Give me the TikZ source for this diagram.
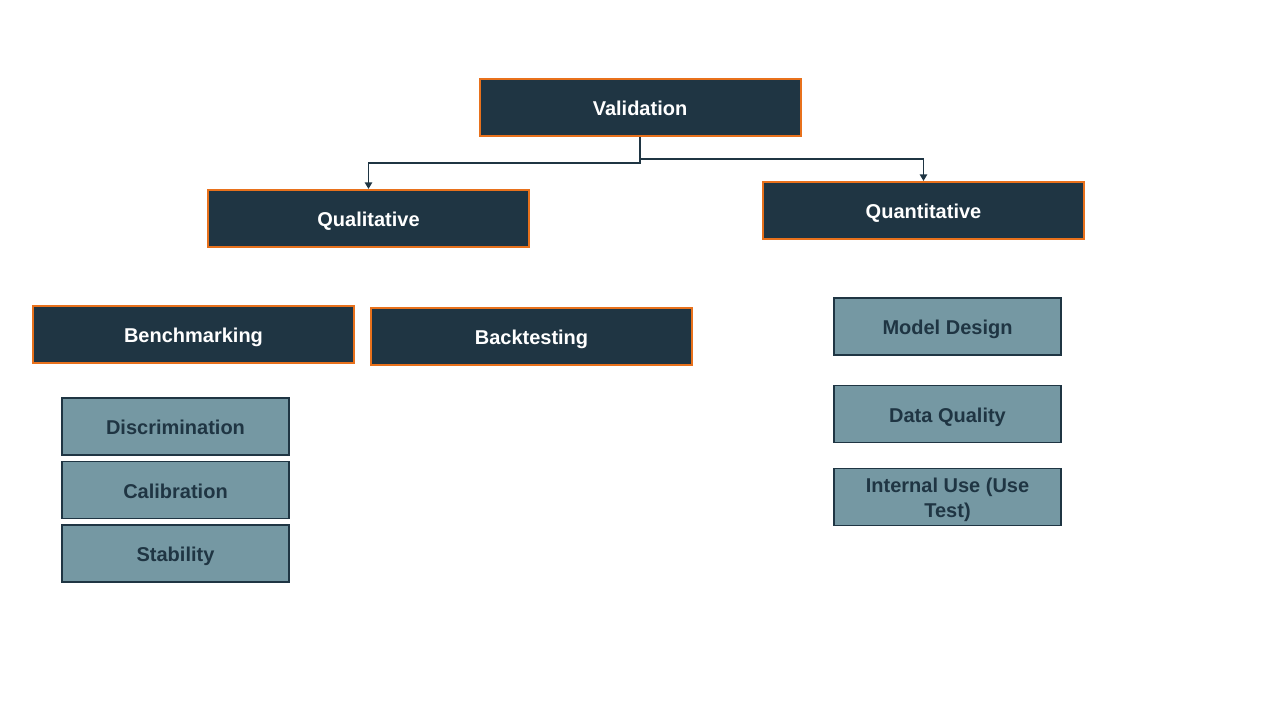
\documentclass[tikz,border=0pt]{standalone}
\usepackage{fontspec}
\setmainfont{Liberation Sans}
\usetikzlibrary{arrows.meta}
\definecolor{darkbox}{HTML}{1F3543}
\definecolor{orangeb}{HTML}{E8711C}
\definecolor{lightbox}{HTML}{7598A3}
\tikzset{
  px/.style={x=0.75pt,y=-0.75pt},
  oneline/.style={text height=12.4pt, text depth=0.2pt},
  topbox/.style={draw=orangeb, line width=1.5pt, fill=darkbox, text=white,
    font=\bfseries\fontsize{15}{17}\selectfont, minimum width=240.75pt, minimum height=42.75pt, inner sep=0pt},
  subbox/.style={draw=darkbox, line width=1.3pt, fill=lightbox, text=darkbox,
    font=\bfseries\fontsize{15}{18.75}\selectfont, minimum width=170.25pt, minimum height=42.75pt,
    inner sep=0pt, align=center},
  conn/.style={draw=darkbox, line width=1.3pt, -{Triangle[length=5pt,width=5.5pt]}}
}
\begin{document}
\begin{tikzpicture}[px]
\useasboundingbox (0,0) rectangle (1280,720);
\node[topbox,oneline] (val) at (640,107.5) {Validation};
\node[topbox,oneline] (qual) at (368.5,218.5) {Qualitative};
\node[topbox,oneline] (quant) at (923.5,210.5) {Quantitative};
\node[topbox,oneline] (bench) at (193.5,334.5) {Benchmarking};
\node[topbox,oneline] (back) at (531.5,336) {Backtesting};
\node[subbox,oneline] (md) at (947.5,326.5) {Model Design};
\node[subbox,oneline] (dq) at (947.5,414) {Data Quality};
\node[subbox,text height=32pt,text depth=1pt] (iu) at (947.5,497) {Internal Use (Use\\Test)};
\node[subbox,oneline] (disc) at (175.5,426.5) {Discrimination};
\node[subbox,oneline] (cal) at (175.5,490) {Calibration};
\node[subbox,oneline] (stab) at (175.5,553.5) {Stability};
\draw[conn] (val.south) |- (640,163) -| (qual.north);
\draw[conn] (val.south) ++(0,22) -| (quant.north);
\end{tikzpicture}
\end{document}
